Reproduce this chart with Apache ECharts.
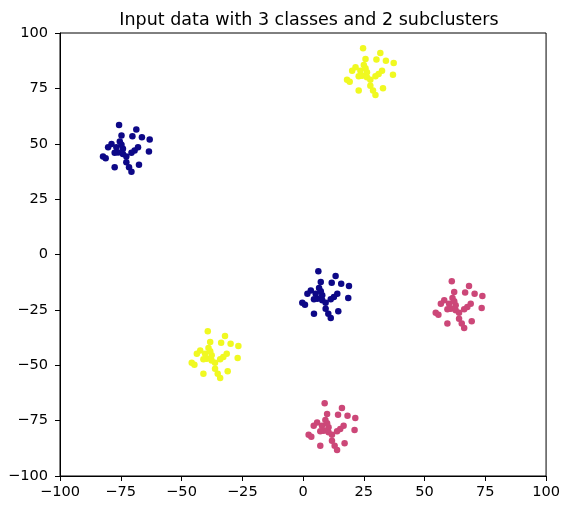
<!DOCTYPE html>
<html>
<head>
<meta charset="utf-8">
<script src="https://cdn.jsdelivr.net/npm/echarts@6/dist/echarts.min.js"></script>
<style>
  html, body { margin: 0; padding: 0; background: #fff; }
  #chart { width: 563px; height: 511px; }
</style>
</head>
<body>
<div id="chart"></div>
<script>
// Clase 0 (azul oscuro): dos subgrupos
const class0 = [
  [-75.7, 58.5], [-68.6, 56.4], [-74.7, 53.7], [-70.2, 53.4], [-66.3, 52.9], [-63.1, 51.9],
  [-75.4, 51.0], [-78.8, 49.9], [-80.2, 48.4], [-76.8, 48.4], [-74.1, 47.7], [-67.9, 48.4],
  [-69.3, 46.9], [-70.6, 45.9], [-76.1, 46.1], [-77.5, 45.9], [-74.1, 45.4], [-82.3, 44.3],
  [-81.2, 43.4], [-63.4, 46.5], [-72.7, 41.6], [-77.5, 39.4], [-71.6, 39.4], [-67.5, 40.5],
  [-70.6, 37.4], [-74.7, 49.5], [-72.7, 44.3],
  [6.3, -7.6], [13.4, -9.7], [7.3, -12.4], [11.8, -12.7], [15.7, -13.2], [18.9, -14.2],
  [6.6, -15.1], [3.2, -16.2], [1.8, -17.7], [5.2, -17.7], [7.9, -18.4], [14.1, -17.7],
  [12.7, -19.2], [11.4, -20.2], [5.9, -20.0], [4.5, -20.2], [7.9, -20.7], [-0.3, -21.8],
  [0.8, -22.7], [18.6, -19.6], [9.3, -24.5], [4.5, -26.7], [10.4, -26.7], [14.5, -25.6],
  [11.4, -28.7], [7.3, -16.6], [9.3, -21.8]
];

// Clase 1 (magenta)
const class1 = [
  [61.2, -12.1], [68.3, -14.2], [62.2, -16.9], [66.7, -17.2], [70.6, -17.7], [73.8, -18.7],
  [61.5, -19.6], [58.1, -20.7], [56.7, -22.2], [60.1, -22.2], [62.8, -22.9], [69.0, -22.2],
  [67.6, -23.7], [66.3, -24.7], [60.8, -24.5], [59.4, -24.7], [62.8, -25.2], [54.6, -26.3],
  [55.7, -27.2], [73.5, -24.1], [64.2, -29.0], [59.4, -31.2], [65.3, -31.2], [69.4, -30.1],
  [66.3, -33.2], [62.2, -21.1], [64.2, -26.3],
  [8.9, -67.2], [16.0, -69.3], [9.9, -72.0], [14.4, -72.3], [18.3, -72.8], [21.5, -73.8],
  [9.2, -74.7], [5.8, -75.8], [4.4, -77.3], [7.8, -77.3], [10.5, -78.0], [16.7, -77.3],
  [15.3, -78.8], [14.0, -79.8], [8.5, -79.6], [7.1, -79.8], [10.5, -80.3], [2.3, -81.4],
  [3.4, -82.3], [21.2, -79.2], [11.9, -84.1], [7.1, -86.3], [13.0, -86.3], [17.1, -85.2],
  [14.0, -88.3], [9.9, -76.2], [11.9, -81.4]
];

// Clase 2 (amarillo)
const class2 = [
  [24.7, 93.1], [31.8, 91.0], [25.7, 88.3], [30.2, 88.0], [34.1, 87.5], [37.3, 86.5],
  [25.0, 85.6], [21.6, 84.5], [20.2, 83.0], [23.6, 83.0], [26.3, 82.3], [32.5, 83.0],
  [31.1, 81.5], [29.8, 80.5], [24.3, 80.7], [22.9, 80.5], [26.3, 80.0], [18.1, 78.9],
  [19.2, 78.0], [37.0, 81.1], [27.7, 76.2], [22.9, 74.0], [28.8, 74.0], [32.9, 75.1],
  [29.8, 72.0], [25.7, 84.1], [27.7, 78.9],
  [-39.2, -34.7], [-32.1, -36.8], [-38.2, -39.5], [-33.7, -39.8], [-29.8, -40.3], [-26.6, -41.3],
  [-38.9, -42.2], [-42.3, -43.3], [-43.7, -44.8], [-40.3, -44.8], [-37.6, -45.5], [-31.4, -44.8],
  [-32.8, -46.3], [-34.1, -47.3], [-39.6, -47.1], [-41.0, -47.3], [-37.6, -47.8], [-45.8, -48.9],
  [-44.7, -49.8], [-26.9, -46.7], [-36.2, -51.6], [-41.0, -53.8], [-35.1, -53.8], [-31.0, -52.7],
  [-34.1, -55.8], [-38.2, -43.7], [-36.2, -48.9]
];

const classColors = ['#0d0887', '#cc4778', '#f0f921'];
const titleText = 'Input data with 3 classes and 2 subclusters';

const chart = echarts.init(document.getElementById('chart'), null, { renderer: 'canvas' });

const fontFamily = 'DejaVu Sans';

// signo menos tipográfico, como en matplotlib
const tickFormatter = v => (v < 0 ? '\u2212' + Math.abs(v) : String(v));

function axisCommon(margin) {
  return {
    type: 'value',
    min: -100,
    max: 100,
    interval: 25,
    splitLine: { show: false },
    axisLine: { show: true, onZero: false, lineStyle: { color: '#000', width: 1 } },
    axisTick: { show: true, length: 5, lineStyle: { color: '#000' } },
    axisLabel: {
      color: '#000',
      fontSize: 14.6,
      fontFamily: fontFamily,
      margin: margin,
      formatter: tickFormatter
    }
  };
}

const option = {
  backgroundColor: '#fff',
  animation: false,
  title: {
    text: titleText,
    left: 304,
    textAlign: 'center',
    top: 6,
    textStyle: { fontFamily: fontFamily, fontSize: 17.5, fontWeight: 'normal', color: '#000' }
  },
  grid: {
    left: 60,
    right: 15,
    top: 33,
    bottom: 35,
    show: true,
    borderColor: '#000',
    borderWidth: 1,
    backgroundColor: 'transparent'
  },
  xAxis: axisCommon(9),
  yAxis: axisCommon(12),
  series: [class0, class1, class2].map((pts, i) => ({
    type: 'scatter',
    data: pts,
    symbol: 'circle',
    symbolSize: 6.5,
    itemStyle: { color: classColors[i], opacity: 1 }
  }))
};

chart.setOption(option);
</script>
</body>
</html>
